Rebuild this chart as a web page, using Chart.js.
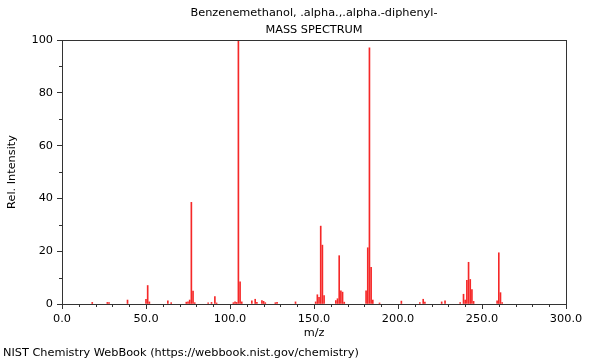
<!DOCTYPE html>
<html>
<head>
<meta charset="utf-8">
<script src="https://cdn.jsdelivr.net/npm/chart.js@4/dist/chart.umd.min.js"></script>
<style>
html,body{margin:0;padding:0;background:#fff;}
#wrap{width:600px;height:360px;position:relative;}
</style>
</head>
<body>
<div id="wrap"><canvas id="c" width="600" height="360"></canvas></div>
<script>
const titleLines = ["Benzenemethanol, .alpha.,.alpha.-diphenyl-", "MASS SPECTRUM"];
const footerText = "NIST Chemistry WebBook (https://webbook.nist.gov/chemistry)";
const xLabel = "m/z";
const yLabel = "Rel. Intensity";

const mz = [18,27,28,39,50,51,52,63,65,74,75,76,77,78,79,87,89,91,92,102,103,104,105,106,107,113,115,116,119,120,121,127,128,139,151,152,153,154,155,156,163,164,165,166,167,168,181,182,183,184,185,189,202,213,215,216,226,228,237,239,240,241,242,243,244,245,259,260,261,262];
const intensity = [0.6,0.6,0.5,1.5,1.8,7,0.8,1.2,0.5,0.7,0.8,1.5,38.5,4.9,0.5,0.4,0.6,2.8,0.4,0.5,0.8,0.6,100,8.4,0.8,1.2,1.8,0.6,1.3,1.0,0.5,0.5,0.6,0.8,0.8,3.5,2.5,29.5,22.3,3.2,1.3,2,18.3,5,4.5,0.7,5,21.3,97,13.9,1.5,0.4,1.1,0.5,1.8,0.7,0.8,1.2,0.5,3.7,1.5,9,15.8,9.3,5.5,1,1.2,19.4,4.3,0.5];

const xMajorTicks = [0,50,100,150,200,250,300];
const yMajorTicks = [0,20,40,60,80,100];

const FONT = "'DejaVu Sans', sans-serif";
const FS = 11.3;
const points = mz.map((m,i)=>({x:m, y:intensity[i]}));

const decor = {
  id:'decor',
  afterDraw(chart){
    const {ctx, chartArea:a, scales:{x,y}} = chart;
    ctx.save();
    ctx.strokeStyle = '#333';
    ctx.lineWidth = 1;
    ctx.beginPath();
    ctx.moveTo(a.left, a.top+0.5); ctx.lineTo(a.right+0.5, a.top+0.5);
    ctx.moveTo(a.right+0.5, a.top); ctx.lineTo(a.right+0.5, a.bottom);
    ctx.stroke();
    ctx.beginPath();
    for(let v=0; v<=300; v+=10){
      if(v%50===0) continue;
      const px = Math.round(x.getPixelForValue(v))+0.5;
      ctx.moveTo(px, a.bottom); ctx.lineTo(px, a.bottom+3);
    }
    for(let v=0; v<=100; v+=10){
      if(v%20===0) continue;
      const py = Math.round(y.getPixelForValue(v))+0.5;
      ctx.moveTo(a.left, py); ctx.lineTo(a.left-3, py);
    }
    ctx.stroke();
    ctx.fillStyle = '#000';
    ctx.font = FS + "px " + FONT;
    ctx.textAlign = 'center';
    ctx.textBaseline = 'middle';
    ctx.fillText(titleLines[0], (a.left+a.right)/2, 13);
    ctx.fillText(titleLines[1], (a.left+a.right)/2, 30);
    ctx.textAlign = 'left';
    ctx.fillText(footerText, 3, 353);
    ctx.restore();
  }
};

new Chart(document.getElementById('c'), {
  type:'bar',
  data:{datasets:[{data:points, backgroundColor:'rgb(245,40,40)', barThickness:1, borderWidth:0}]},
  options:{
    responsive:false, animation:false,
    layout:{padding:{top:40,right:34,bottom:0,left:0}},
    plugins:{legend:{display:false}, tooltip:{enabled:false}},
    scales:{
      x:{type:'linear', min:0, max:300, offset:false,
        afterBuildTicks(s){ s.ticks = xMajorTicks.map(v=>({value:v})); },
        afterFit(s){ s.height = 56; },
        ticks:{font:{family:FONT,size:FS}, color:'#000', padding:3, maxRotation:0, callback:v=>v.toFixed(1)},
        grid:{drawOnChartArea:false, offset:false, tickLength:5, color:'#333'},
        border:{color:'#333'},
        title:{display:true, text:xLabel, font:{family:FONT,size:FS}, color:'#000', padding:{top:0,bottom:20}}
      },
      y:{type:'linear', min:0, max:100,
        afterBuildTicks(s){ s.ticks = yMajorTicks.map(v=>({value:v})); },
        afterFit(s){ s.width = 62; },
        ticks:{font:{family:FONT,size:FS}, color:'#000', padding:4},
        grid:{drawOnChartArea:false, tickLength:5, color:'#333'},
        border:{color:'#333'},
        title:{display:true, text:yLabel, font:{family:FONT,size:FS}, color:'#000', padding:{top:5,bottom:0}}
      }
    }
  },
  plugins:[decor]
});
</script>
</body>
</html>
